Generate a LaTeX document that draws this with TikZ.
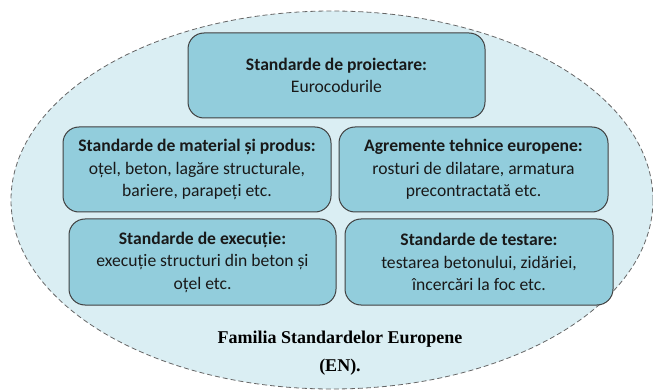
\documentclass[tikz,border=0pt]{standalone}
\usepackage{fontspec}
\usetikzlibrary{shapes.geometric}
\setmainfont{Carlito}
\newfontfamily\timesfont{Liberation Serif}
\definecolor{ellfill}{HTML}{DAEEF3}
\definecolor{boxfill}{HTML}{92CDDC}
\definecolor{edge}{HTML}{404040}
\begin{document}
\begin{tikzpicture}[x=1pt,y=-1pt,
  box/.style={draw=edge, line width=1pt, fill=boxfill, rounded corners=16pt,
    align=center, inner sep=0pt, font=\fontsize{17.6}{22.5}\selectfont, text=black!90},
  fam/.style={align=center, font=\timesfont\bfseries\fontsize{18}{28}\selectfont}]
\useasboundingbox (0,0) rectangle (653,390);
\node[draw=edge!80, dash pattern=on 5pt off 3pt, line width=0.8pt, fill=ellfill, ellipse, minimum width=642, minimum height=378, inner sep=0pt] (ell) at (332,200) {};
\node[box, minimum width=297, minimum height=85] (proj) at (336.5,75.5) {\textbf{Standarde de proiectare:}\\Eurocodurile};
\node[box, minimum width=268, minimum height=85] (mat) at (197,169.5) {\textbf{Standarde de material și produs:}\\oțel, beton, lagăre structurale,\\bariere, parapeți etc.};
\node[box, minimum width=269, minimum height=85] (agr) at (473.5,169.5) {\textbf{Agremente tehnice europene:}\\rosturi de dilatare, armatura\\precontractată etc.};
\node[box, minimum width=267, minimum height=86] (exe) at (202.5,262) {\textbf{Standarde de execuție:}\\execuție structuri din beton și\\oțel etc.};
\node[box, minimum width=268, minimum height=86] (tes) at (479,262) {\textbf{Standarde de testare:}\\testarea betonului, zidăriei,\\încercări la foc etc.};
\node[fam] (famtxt) at (340,353) {Familia Standardelor Europene\\(EN).};
\end{tikzpicture}
\end{document}
